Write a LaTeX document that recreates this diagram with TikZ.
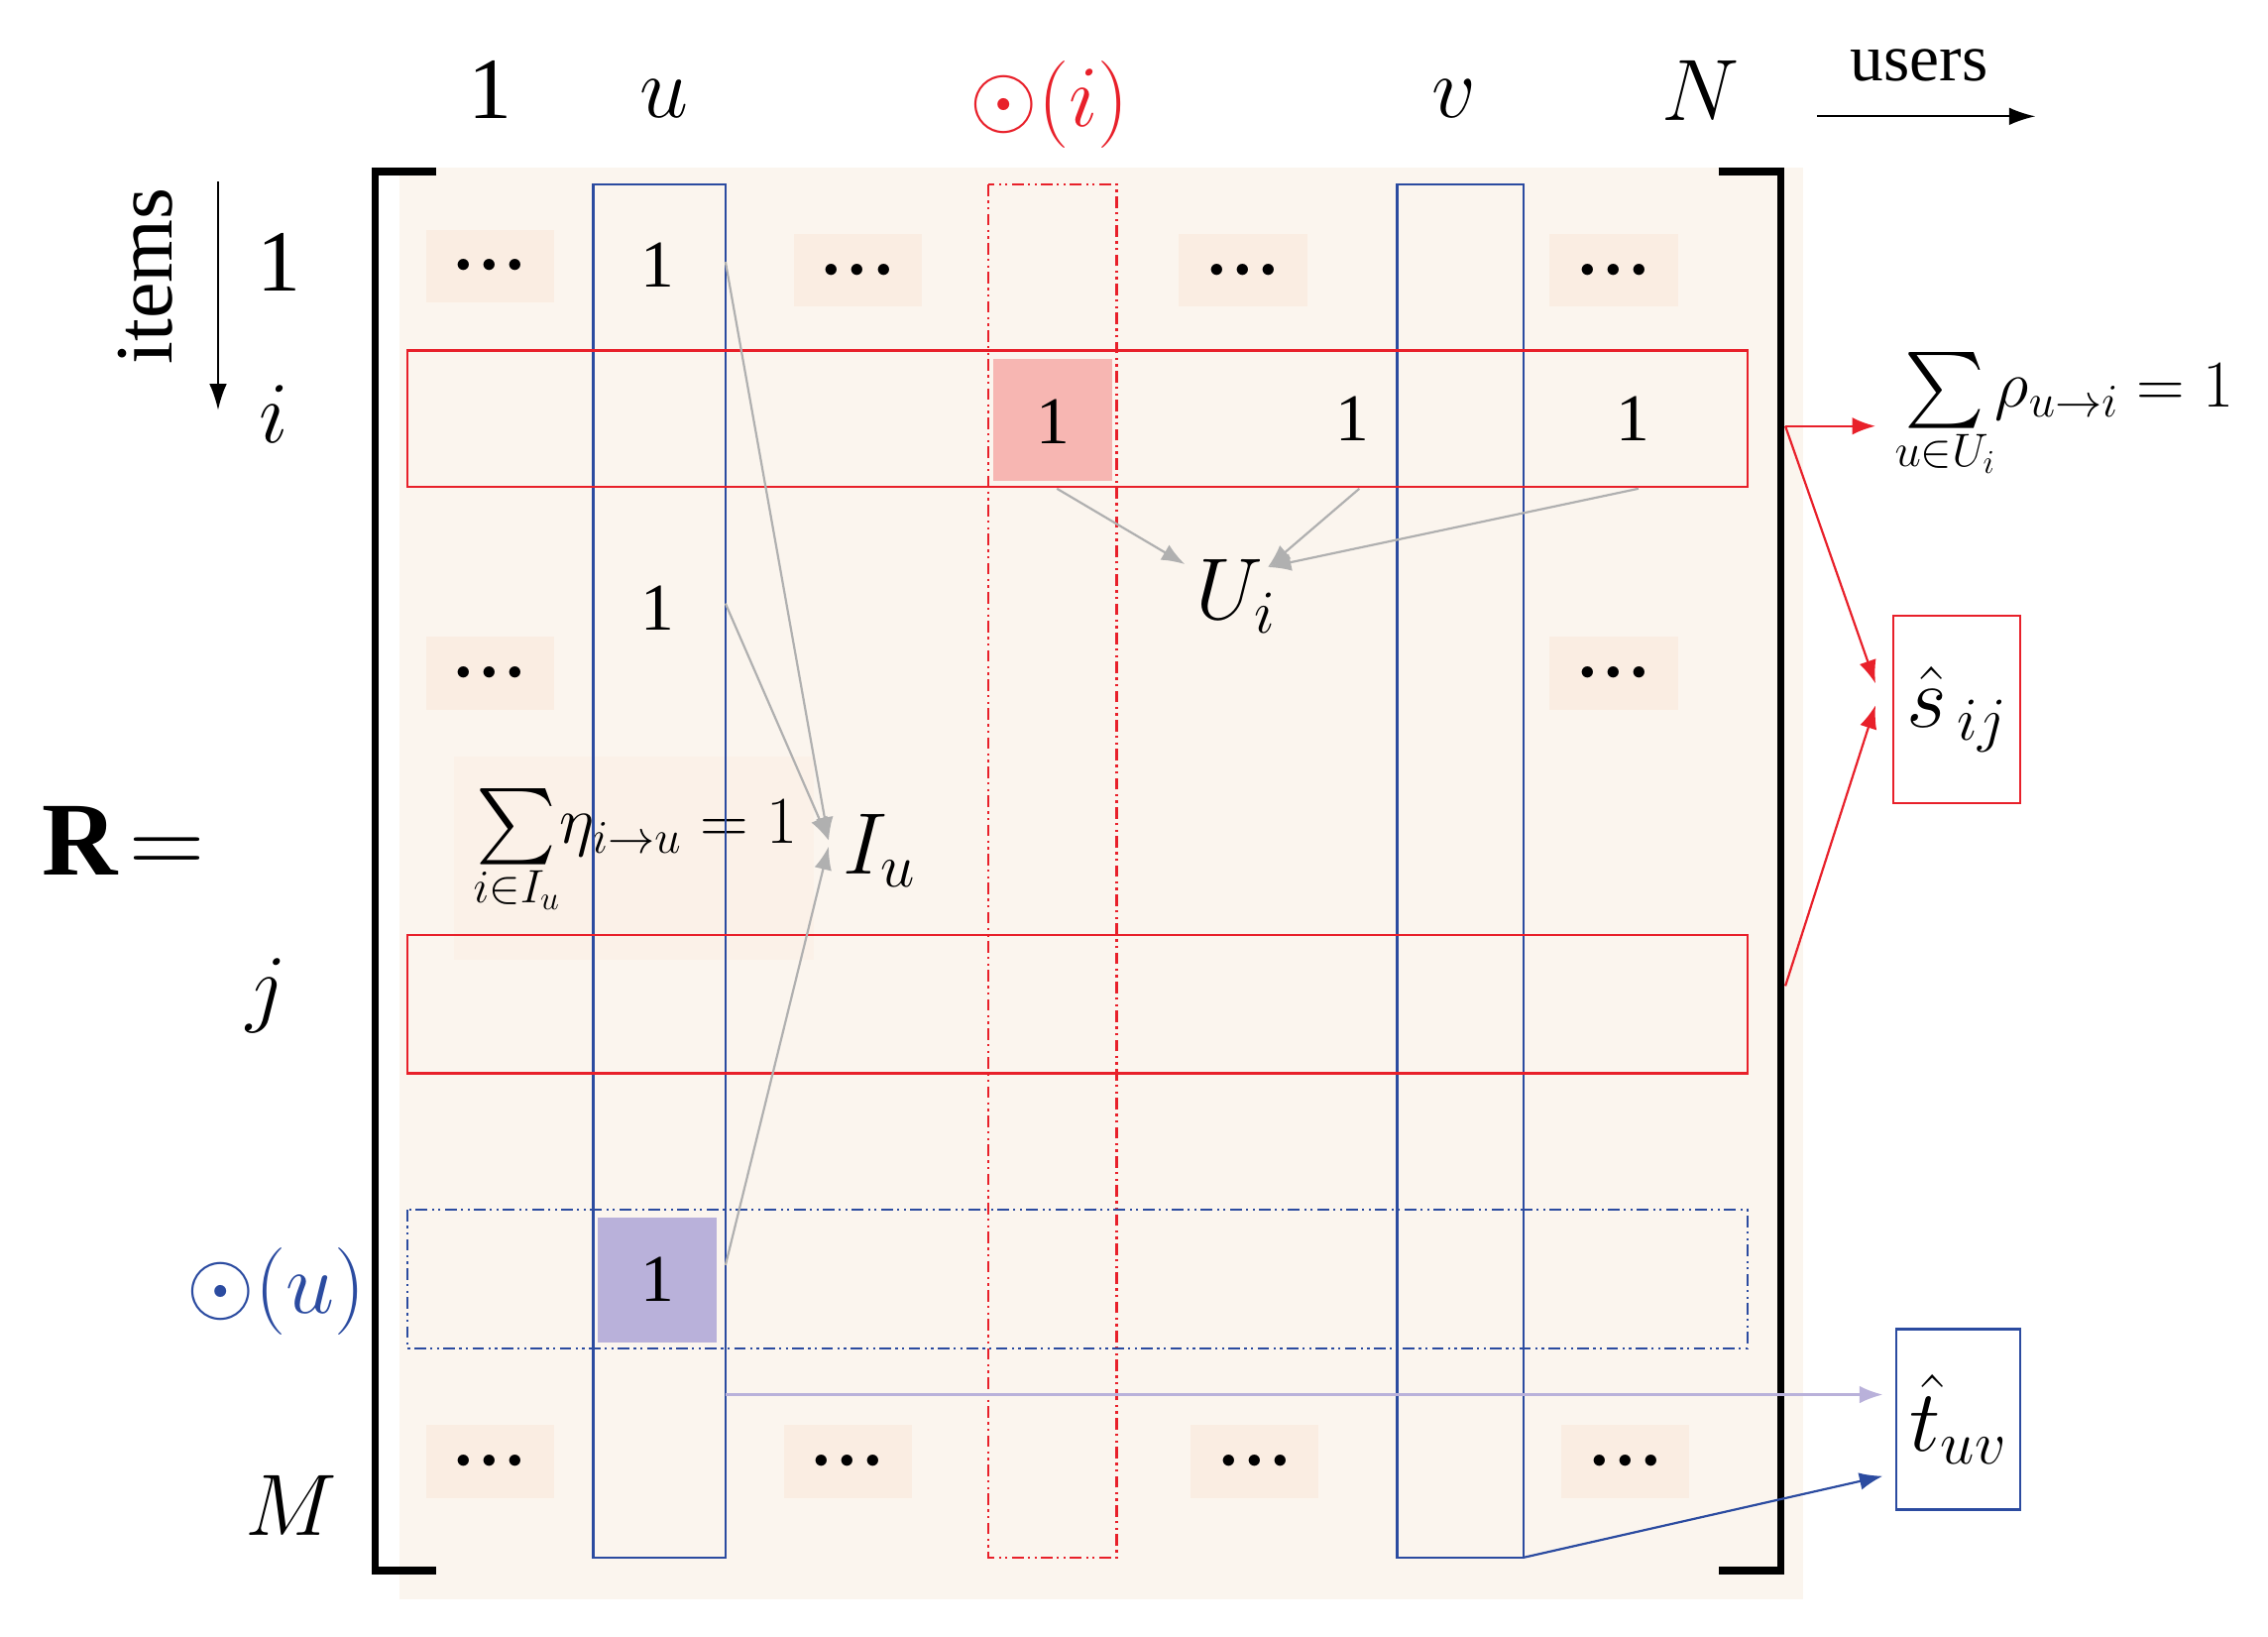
\RequirePackage{fix-cm}
\documentclass[tikz,border=0pt]{standalone}
\usepackage{amsmath}
\usepackage{fontspec}
\setmainfont{Liberation Serif}
\usetikzlibrary{arrows.meta}
\newcommand{\bigsum}{\mathop{\vcenter{\hbox{\scalebox{2.1}{$\sum$}}}}\limits}
\begin{document}
\definecolor{bg}{HTML}{FBF5EE}
\definecolor{dotbg}{HTML}{FAEDE2}
\definecolor{rd}{HTML}{E8202A}
\definecolor{bl}{HTML}{2B4BA0}
\definecolor{pk}{HTML}{F7B6B2}
\definecolor{pu}{HTML}{B9B1DA}
\definecolor{gr}{HTML}{B0B0B0}
\begin{tikzpicture}[x=1pt,y=-1pt,
  big/.style={font=\fontsize{60}{64}\selectfont},
  mid/.style={font=\fontsize{46}{50}\selectfont},
  dots/.style={fill=dotbg,minimum width=88pt,minimum height=50pt,inner sep=0pt,font=\fontsize{20}{20}\selectfont},
  garr/.style={draw=gr,line width=1.5pt,-{Latex[length=16pt,width=12pt]}},
  rarr/.style={draw=rd,line width=1.5pt,-{Latex[length=16pt,width=12pt]}},
  dd/.style={dash pattern=on 8pt off 3pt on 1.5pt off 3pt on 1.5pt off 3pt}]
\useasboundingbox (0,0) rectangle (1560,1125);
\fill[bg] (275,115) rectangle (1240,1100);
\foreach \x/\y [count=\k] in {337/183,590/186,855/186,1110/186,337/463,1110/463,337/1005,583/1005,863/1005,1118/1005}
  \node[dots] (d\k) at (\x,\y) {$\bullet\,\bullet\,\bullet$};
\fill[dotbg!80] (312,520) rectangle (560,660);
\node[mid] (eta) at (437,585) {$\bigsum_{i\in I_u}\!\eta_{i\to u}=1$};
\draw[line width=5pt] (300,118) -| (258,1080) -- (300,1080);
\draw[line width=5pt] (1182,118) -| (1225,1080) -- (1182,1080);
\fill[pk] (683,247) rectangle (765,331);
\fill[pu] (411,837) rectangle (493,923);
\draw[bl,line width=1.5pt] (408,127) rectangle (499,1071);
\draw[bl,line width=1.5pt] (961,127) rectangle (1048,1071);
\draw[rd,line width=1.5pt,dd] (680,127) rectangle (768,1071);
\draw[rd,line width=1.5pt] (280,241) rectangle (1202,335);
\draw[rd,line width=1.5pt] (280,643) rectangle (1202,738);
\draw[bl,line width=1.5pt,dd] (280,832) rectangle (1202,927);
\node[mid] (e1) at (452,182) {1};
\node[mid] (e2) at (452,418) {1};
\node[mid] (e3) at (452,880) {1};
\node[mid] (e4) at (724,290) {1};
\node[mid] (e5) at (930,288) {1};
\node[mid] (e6) at (1123,288) {1};
\node[big] (c1) at (337,62) {1};
\node[big] (cu) at (457,68) {$u$};
\node[big,text=rd] (ci) at (722,72) {$\odot\!\left(i\right)$};
\node[big] (cv) at (1000,68) {$v$};
\node[big] (cN) at (1170,62) {$N$};
\node[mid] (users) at (1320,45) {users};
\coordinate (ua) at (1250,80); \coordinate (ub) at (1400,80);
\draw[line width=1.5pt,-{Latex[length=18pt,width=12pt]}] (ua) -- (ub);
\node[font=\fontsize{56}{60}\selectfont,rotate=90] (items) at (100,190) {items};
\coordinate (ia) at (150,125); \coordinate (ib) at (150,282);
\draw[line width=1.5pt,-{Latex[length=18pt,width=12pt]}] (ia) -- (ib);
\node[big] (r1) at (192,180) {1};
\node[big] (ri) at (188,285) {$i$};
\node[big] (rj) at (183,685) {$j$};
\node[big,text=bl] (ru) at (190,888) {$\odot\!\left(u\right)$};
\node[big] (rM) at (200,1035) {$M$};
\node[font=\fontsize{72}{72}\selectfont] (R) at (85,578) {$\mathbf{R}\!=$};
\node[big] (Ui) at (850,410) {$U_i$};
\node[big] (Iu) at (605,585) {$I_u$};
\coordinate (ut) at (815,388); \coordinate (ut2) at (872,390);
\draw[garr] (727,336) -- (ut);
\draw[garr] (935,336) -- (ut2);
\draw[garr] (1127,336) -- (ut2);
\coordinate (it) at (570,578); \coordinate (it2) at (570,582);
\draw[garr] (499,180) -- (it);
\draw[garr] (499,415) -- (it);
\draw[garr] (499,870) -- (it2);
\node[mid] (rho) at (1420,285) {$\bigsum_{u\in U_i}\!\rho_{u\to i}=1$};
\node[draw=rd,line width=1.5pt,minimum width=87pt,minimum height=129pt,big] (s) at (1346,488) {$\hat{s}_{\,ij}$};
\node[draw=bl,line width=1.5pt,minimum width=85pt,minimum height=124pt,big] (t) at (1347,976) {$\hat{t}_{uv}$};
\coordinate (ri1) at (1228,293); \coordinate (ri2) at (1290,293);
\coordinate (sa) at (1290,470); \coordinate (sb) at (1290,485);
\coordinate (rj1) at (1228,678);
\draw[rarr] (ri1) -- (ri2);
\draw[rarr] (ri1) -- (sa);
\draw[rarr] (rj1) -- (sb);
\coordinate (ta) at (499,959); \coordinate (tb) at (1295,959);
\draw[draw=pu,line width=1.5pt,-{Latex[length=16pt,width=12pt]}] (ta) -- (tb);
\coordinate (tc) at (1048,1071); \coordinate (td) at (1295,1015);
\draw[draw=bl,line width=1.5pt,-{Latex[length=16pt,width=12pt]}] (tc) -- (td);
\end{tikzpicture}
\end{document}
